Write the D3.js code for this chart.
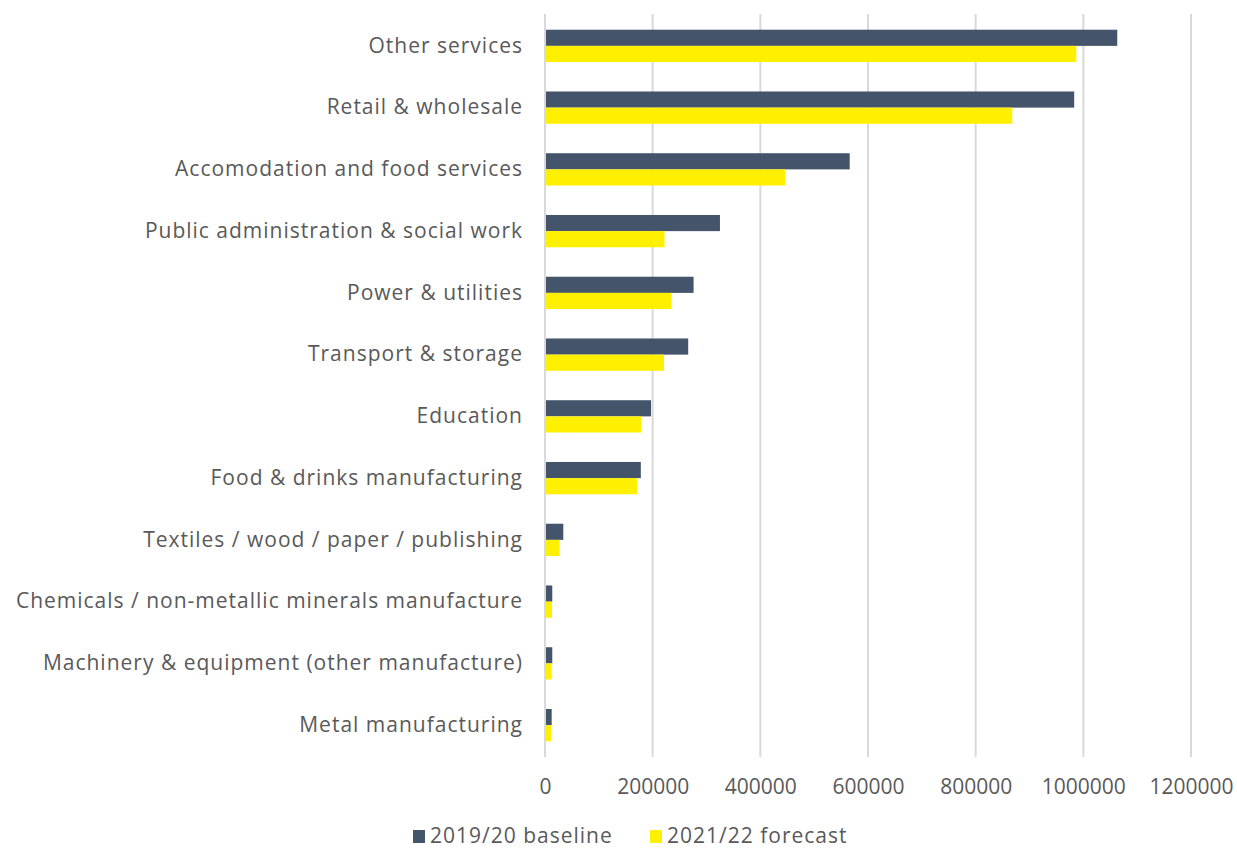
<!DOCTYPE html>
<html>
<head>
<meta charset="utf-8">
<script src="https://cdn.jsdelivr.net/npm/d3@7"></script>
<style>
  html, body { margin: 0; padding: 0; background: #ffffff; }
  svg { display: block; }
  text { font-family: "Open Sans", sans-serif; fill: #595959; }
</style>
</head>
<body>
<svg id="chart" width="1237" height="848"></svg>
<script>
// Sectors, top to bottom
const categories = [
  "Other services",
  "Retail & wholesale",
  "Accomodation and food services",
  "Public administration & social work",
  "Power & utilities",
  "Transport & storage",
  "Education",
  "Food & drinks manufacturing",
  "Textiles / wood / paper / publishing",
  "Chemicals / non-metallic minerals manufacture",
  "Machinery & equipment (other manufacture)",
  "Metal manufacturing"
];

const baseline2019 = [1063000, 983000, 566000, 325000, 276000, 266000, 197000, 178000, 34000, 13500, 13500, 12400];
const forecast2021 = [987000, 868000, 446000, 222000, 235000, 221000, 179000, 171000, 27000, 13000, 12400, 11800];

const seriesNames = ["2019/20 baseline", "2021/22 forecast"];
const seriesColors = ["#44546A", "#FFF000"];
const xTicks = [0, 200000, 400000, 600000, 800000, 1000000, 1200000];

const svg = d3.select("#chart");
const margin = { left: 545, right: 46, top: 15, bottom: 92 };
const W = 1237, H = 848;
const fontSize = "21px";
const fontFamily = "'Open Sans', sans-serif";
const labelSpacing = "1px";

const x = d3.scaleLinear()
  .domain([0, 1200000])
  .range([margin.left, W - margin.right]);

const y = d3.scaleBand()
  .domain(categories)
  .range([margin.top, H - margin.bottom])
  .paddingInner(0.477)
  .paddingOuter(0.2385);

const ySub = d3.scaleBand()
  .domain(seriesNames)
  .range([0, y.bandwidth()]);

// vertical gridlines
svg.append("g")
  .selectAll("line")
  .data(xTicks)
  .join("line")
  .attr("x1", d => x(d)).attr("x2", d => x(d))
  .attr("y1", margin.top - 1).attr("y2", H - margin.bottom + 1)
  .attr("stroke", "#D9D9D9")
  .attr("stroke-width", 2);

// bars
const rows = categories.map((c, i) => ({ cat: c, vals: [baseline2019[i], forecast2021[i]] }));
const groups = svg.append("g")
  .selectAll("g")
  .data(rows)
  .join("g")
  .attr("transform", d => `translate(0,${y(d.cat)})`);

groups.selectAll("rect")
  .data(d => d.vals.map((v, k) => ({ v, k })))
  .join("rect")
  .attr("x", x(0) + 1)
  .attr("y", d => ySub(seriesNames[d.k]))
  .attr("width", d => x(d.v) - x(0) - 1)
  .attr("height", ySub.bandwidth())
  .attr("fill", d => seriesColors[d.k]);

// category axis
const yAxis = d3.axisLeft(y).tickSize(0).tickPadding(22);
const yg = svg.append("g")
  .attr("transform", `translate(${margin.left},0)`)
  .call(yAxis);
yg.select(".domain").remove();
yg.selectAll("text")
  .style("font-size", fontSize)
  .style("font-family", fontFamily)
  .style("letter-spacing", labelSpacing)
  .attr("fill", "#595959");

// value axis
const xAxis = d3.axisBottom(x).tickValues(xTicks).tickFormat(d3.format("d")).tickSize(0).tickPadding(23);
const xg = svg.append("g")
  .attr("transform", `translate(0,${H - margin.bottom})`)
  .call(xAxis);
xg.select(".domain").remove();
xg.selectAll("text")
  .style("font-size", fontSize)
  .style("font-family", fontFamily)
  .attr("fill", "#595959");

// legend
const legendX = [413, 650];
const legend = svg.append("g")
  .selectAll("g")
  .data(seriesNames)
  .join("g")
  .attr("transform", (d, i) => `translate(${legendX[i]},830)`);
legend.append("rect")
  .attr("width", 12).attr("height", 13)
  .attr("fill", (d, i) => seriesColors[i]);
legend.append("text")
  .attr("x", 17).attr("y", 6)
  .attr("dy", "0.35em")
  .style("font-size", fontSize)
  .style("font-family", fontFamily)
  .style("letter-spacing", labelSpacing)
  .text(d => d);
</script>
</body>
</html>
